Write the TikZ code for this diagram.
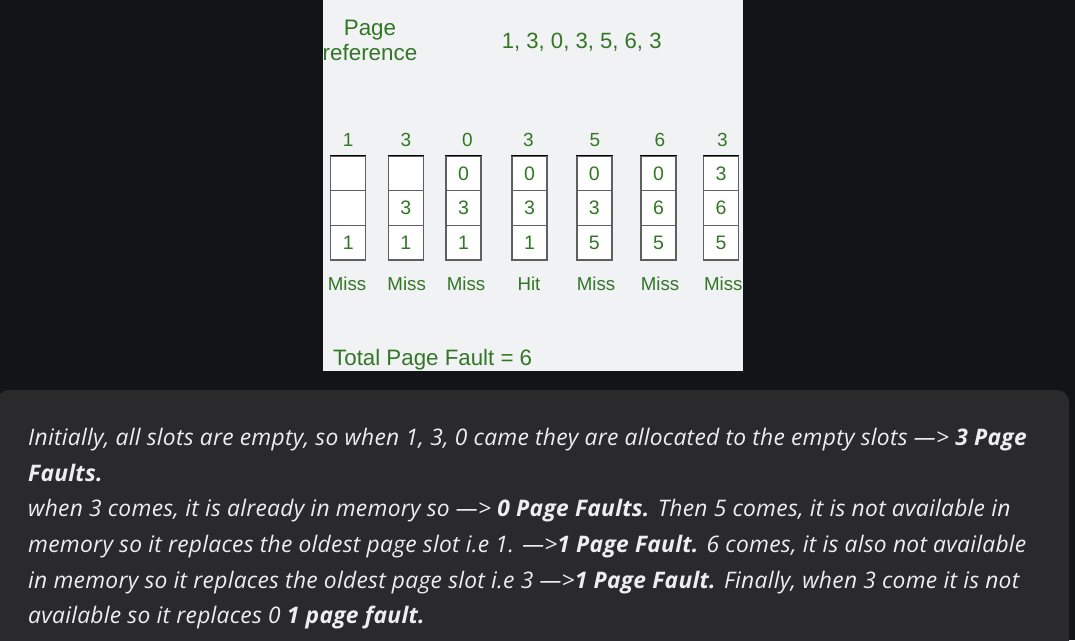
\documentclass[tikz,border=0pt]{standalone}
\usepackage{fontspec}
\setmainfont{Liberation Sans}
\newfontfamily\bodyfont[LetterSpace=1.2]{Open Sans}
\definecolor{outerbg}{RGB}{19,20,23}
\definecolor{panelbg}{RGB}{241,242,244}
\definecolor{cardbg}{RGB}{42,42,45}
\definecolor{grn}{RGB}{50,118,38}
\definecolor{boxline}{RGB}{95,95,95}
\definecolor{txt}{RGB}{238,238,238}
\tikzset{
  lbl/.style={anchor=base,inner sep=0pt,text=grn},
  cell/.style={draw=boxline,fill=white,line width=1.4pt,minimum width=35pt,minimum height=34.6pt,inner sep=0pt,text=grn,font=\fontsize{19.5}{22}\selectfont},
  para/.style={anchor=base west,inner sep=0pt,text=txt,font=\bodyfont\itshape\fontsize{22.8}{26}\selectfont}
}
\newcommand{\bfit}[1]{{\bfseries #1}}
\begin{document}
\begin{tikzpicture}[x=1pt,y=-1pt]
\useasboundingbox (0,0) rectangle (1075,640);
\fill[outerbg] (0,0) rectangle (1075,640);
\fill[panelbg] (323,0) rectangle (743,370.5);
\fill[cardbg,rounded corners=12pt] (-3,390) rectangle (1069,660);
% header
\node[lbl,font=\fontsize{22.4}{26}\selectfont] (pg) at (370,35) {Page};
\node[lbl,font=\fontsize{22.4}{26}\selectfont] (rf) at (370,60.7) {reference};
\node[lbl,font=\fontsize{22.1}{26}\selectfont] (seq) at (581.7,48.3) {1, 3, 0, 3, 5, 6, 3};
% top numbers
\foreach \x/\v [count=\i] in {348.2/1,406/3,467.3/0,528.3/3,595/5,660/6,722.3/3}
  \node[lbl,font=\fontsize{19}{22}\selectfont] (t\i) at (\x,146.7) {\v};
% frames
\foreach \x/\a/\b/\c [count=\i] in {348.2/{}/{}/1, 405.8/{}/3/1, 463.5/0/3/1, 529.5/0/3/1, 594.3/0/3/5, 658.5/0/6/5, 721/3/6/5}{
  \node[cell] (f\i a) at (\x,173.3) {\a};
  \node[cell] (f\i b) at (\x,207.9) {\b};
  \node[cell] (f\i c) at (\x,242.5) {\c};
  \draw[black,line width=1.4pt] (f\i a.north west) -- (f\i a.north east);
}
% results
\foreach \x/\v [count=\i] in {347/Miss,406.7/Miss,466/Miss,529/Hit,596/Miss,660/Miss,723.3/Miss}
  \node[lbl,font=\fontsize{18.7}{21}\selectfont] (r\i) at (\x,290.7) {\v};
\node[anchor=base west,inner sep=0pt,text=grn,font=\fontsize{22.3}{26}\selectfont] (tot) at (333,365.7) {Total Page Fault = 6};
% explanation
\node[para] (l1) at (28,445.7) {Initially, all slots are empty, so when 1, 3, 0 came they are allocated to the empty slots —> \bfit{3 Page}};
\node[para] (l2) at (28,481.3) {\bfit{Faults.}};
\node[para] (l3) at (28,516.9) {when 3 comes, it is already in memory so —> \bfit{0 Page Faults.} Then 5 comes, it is not available in};
\node[para] (l4) at (28,552.5) {memory so it replaces the oldest page slot i.e 1. —>\bfit{1 Page Fault.} 6 comes, it is also not available};
\node[para] (l5) at (28,588.1) {in memory so it replaces the oldest page slot i.e 3 —>\bfit{1 Page Fault.} Finally, when 3 come it is not};
\node[para] (l6) at (28,623.7) {available so it replaces 0 \bfit{1 page fault.}};
\end{tikzpicture}
\end{document}
